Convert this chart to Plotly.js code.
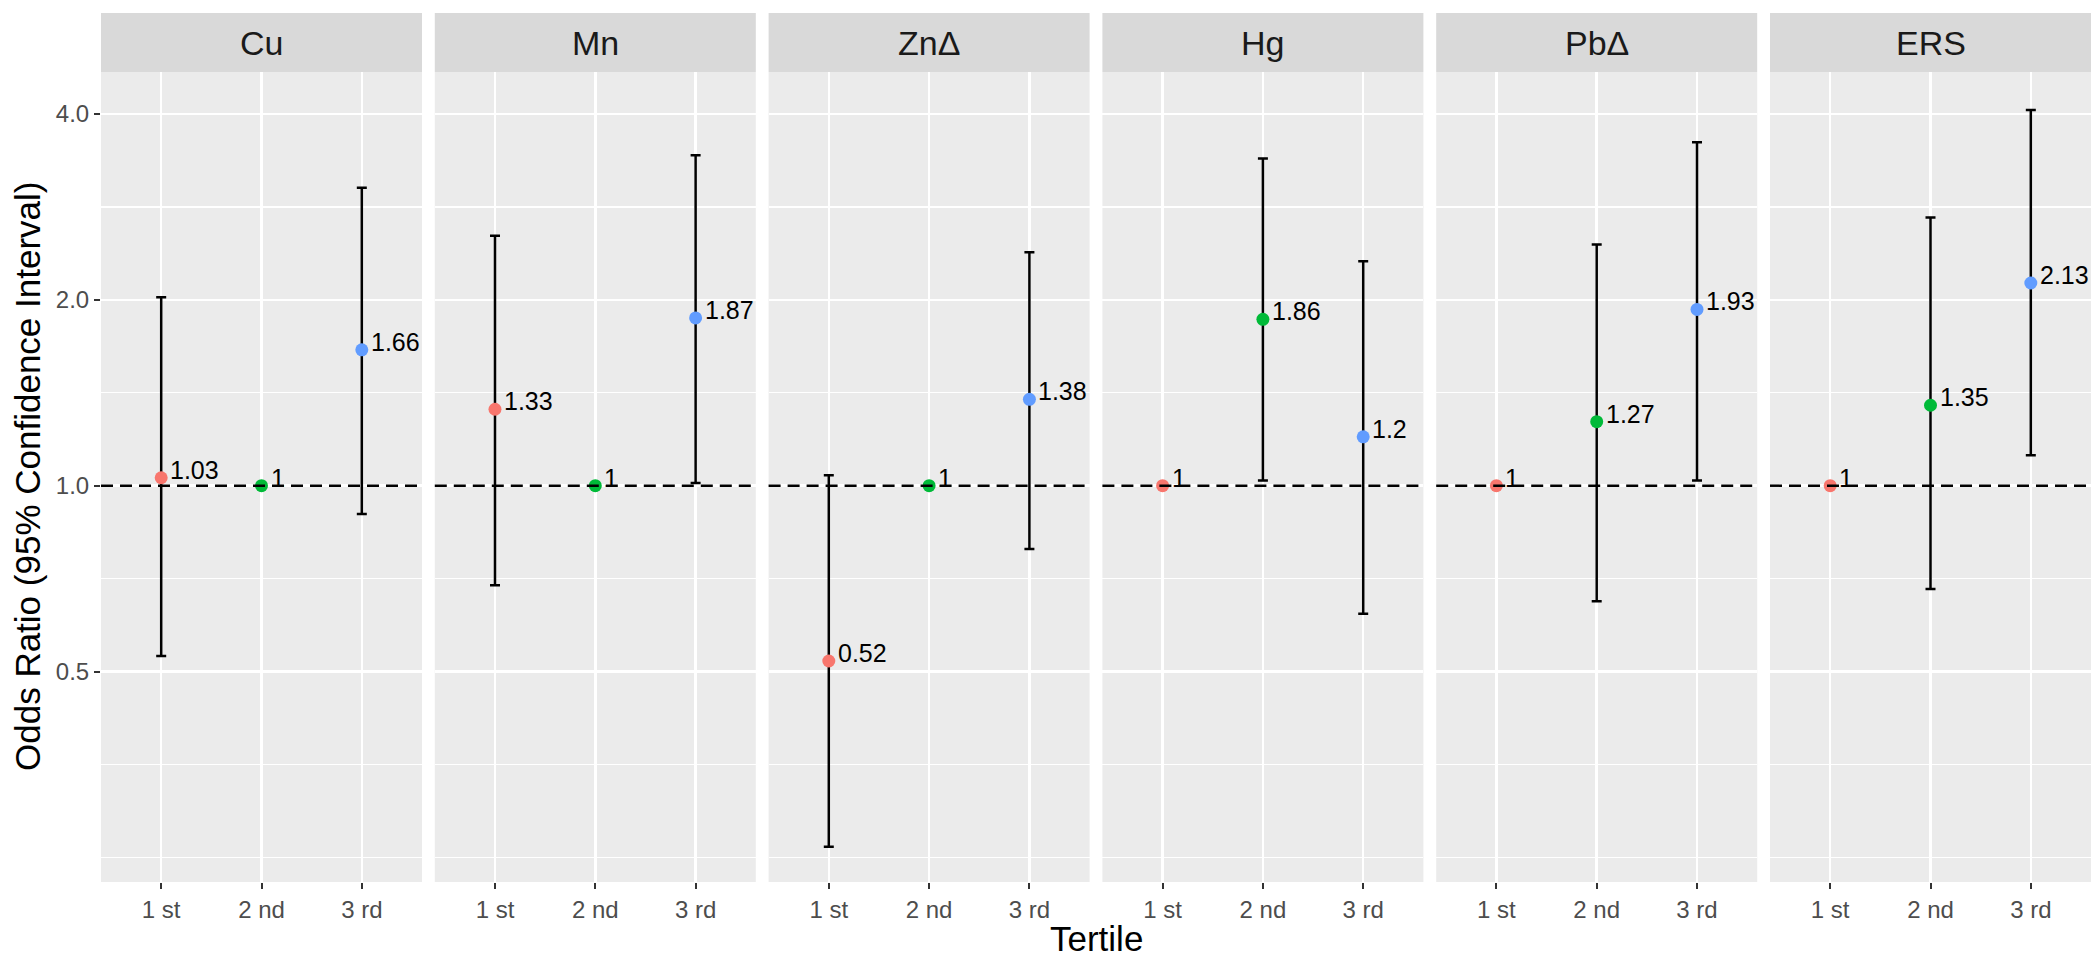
<!DOCTYPE html>
<html>
<head>
<meta charset="utf-8">
<script src="https://cdn.plot.ly/plotly-3.0.1.min.js"></script>
<style>
  html, body { margin: 0; padding: 0; background: #ffffff; }
  #plot { width: 2100px; height: 961px; }
</style>
</head>
<body>
<div id="plot"></div>
<script>
/* ===========================================
   Data
   =========================================== */

const panels = ['Cu', 'Mn', 'ZnΔ', 'Hg', 'PbΔ', 'ERS'];
const tertiles = ['1 st', '2 nd', '3 rd'];

// odds ratio per panel, one value per tertile (reference = 1, no CI)
const oddsRatio = [
  [1.03, 1, 1.66],
  [1.33, 1, 1.87],
  [0.52, 1, 1.38],
  [1, 1.86, 1.2],
  [1, 1.27, 1.93],
  [1, 1.35, 2.13]
];
const ciLower = [
  [0.53, null, 0.90],
  [0.69, null, 1.01],
  [0.26, null, 0.79],
  [null, 1.02, 0.62],
  [null, 0.65, 1.02],
  [null, 0.68, 1.12]
];
const ciUpper = [
  [2.02, null, 3.04],
  [2.54, null, 3.43],
  [1.04, null, 2.39],
  [null, 3.39, 2.31],
  [null, 2.46, 3.60],
  [null, 2.72, 4.06]
];

const yTickVals = [0.5, 1, 2, 4];
const yTickText = ['0.5', '1.0', '2.0', '4.0'];

/* ===========================================
   Styling
   =========================================== */

const tertileColors = ['#F8766D', '#00BA38', '#619CFF'];
const FONT = 'Liberation Sans, Arial, Helvetica, sans-serif';

const W = 2100, H = 961;
const margin = { l: 101, r: 9, t: 72, b: 79 };
const plotW = W - margin.l - margin.r;
const plotH = H - margin.t - margin.b;
const panelW = 321;
const gap = (plotW - panels.length * panelW) / (panels.length - 1);
const stripH = 59;

// ggplot style minor breaks: geometric midpoints + one extension below
const ext = [yTickVals[0] / 2, ...yTickVals];
const yMinor = [ext[0], ...ext.slice(0, -1).map(v => v * Math.SQRT2)];

const yRange = [Math.log10(0.228), Math.log10(4.68)];

/* ===========================================
   Build traces / axes
   =========================================== */

const traces = [];
const annotations = [];
const shapes = [];
const layout = {
  width: W,
  height: H,
  margin: margin,
  paper_bgcolor: '#ffffff',
  plot_bgcolor: '#EBEBEB',
  showlegend: false,
  font: { family: FONT, color: '#4D4D4D' }
};

panels.forEach((name, i) => {
  const suffix = i === 0 ? '' : String(i + 1);
  const xa = 'x' + suffix;
  const ya = 'y' + suffix;

  const x0 = (i * (panelW + gap)) / plotW;
  const x1 = (i * (panelW + gap) + panelW) / plotW;

  layout['xaxis' + suffix] = {
    domain: [x0, x1],
    anchor: ya,
    type: 'category',
    categoryorder: 'array',
    categoryarray: tertiles,
    range: [-0.6, 2.6],
    showgrid: true,
    gridcolor: '#ffffff',
    gridwidth: 2.5,
    zeroline: false,
    showline: false,
    ticks: 'outside',
    ticklen: 6,
    tickwidth: 2,
    tickcolor: '#333333',
    tickfont: { family: FONT, size: 24, color: '#4D4D4D' },
    fixedrange: true
  };

  layout['yaxis' + suffix] = {
    domain: [0, 1],
    anchor: xa,
    type: 'log',
    range: yRange,
    tickmode: 'array',
    tickvals: yTickVals,
    ticktext: yTickText,
    showticklabels: i === 0,
    ticks: i === 0 ? 'outside' : '',
    ticklen: 6,
    tickwidth: 2,
    tickcolor: '#333333',
    tickfont: { family: FONT, size: 24, color: '#4D4D4D' },
    showgrid: true,
    gridcolor: '#ffffff',
    gridwidth: 2.5,
    minor: {
      tickmode: 'array',
      tickvals: yMinor,
      showgrid: true,
      gridcolor: '#ffffff',
      gridwidth: 1.2,
      ticks: ''
    },
    zeroline: false,
    showline: false,
    fixedrange: true
  };

  const vals = oddsRatio[i];
  const plus = vals.map((v, k) => ciUpper[i][k] == null ? NaN : ciUpper[i][k] - v);
  const minus = vals.map((v, k) => ciLower[i][k] == null ? NaN : v - ciLower[i][k]);

  traces.push({
    type: 'scatter',
    mode: 'markers',
    xaxis: xa,
    yaxis: ya,
    x: tertiles,
    y: vals,
    marker: { size: 13, color: tertileColors, line: { width: 0 } },
    error_y: {
      type: 'data',
      symmetric: false,
      array: plus,
      arrayminus: minus,
      color: '#000000',
      thickness: 2.5,
      width: 5
    },
    hoverinfo: 'skip'
  });

  // value labels to the right of each point
  vals.forEach((v, k) => {
    annotations.push({
      xref: xa,
      yref: ya,
      x: tertiles[k],
      y: Math.log10(v),
      text: String(v),
      showarrow: false,
      xanchor: 'left',
      yanchor: 'middle',
      xshift: 7,
      yshift: 8,
      font: { family: FONT, size: 25, color: '#000000' }
    });
  });

  // reference line at OR = 1
  shapes.push({
    type: 'line',
    xref: xa + ' domain',
    yref: ya,
    x0: 0, x1: 1,
    y0: 1, y1: 1,
    layer: 'above',
    line: { color: '#000000', width: 2.5, dash: '12px,7px' }
  });

  // facet strip
  shapes.push({
    type: 'rect',
    xref: xa + ' domain',
    yref: 'paper',
    x0: 0, x1: 1,
    y0: 1, y1: 1 + stripH / plotH,
    fillcolor: '#D9D9D9',
    line: { width: 0 },
    layer: 'below'
  });
  annotations.push({
    xref: xa + ' domain',
    yref: 'paper',
    x: 0.5,
    y: 1 + stripH / 2 / plotH,
    text: name,
    showarrow: false,
    xanchor: 'center',
    yanchor: 'middle',
    font: { family: FONT, size: 34, color: '#1A1A1A' }
  });
});

// axis titles
annotations.push({
  xref: 'paper', yref: 'paper',
  x: 0.5, y: (plotH - (938 - margin.t)) / plotH,
  text: 'Tertile',
  showarrow: false,
  xanchor: 'center', yanchor: 'middle',
  font: { family: FONT, size: 35, color: '#000000' }
});
annotations.push({
  xref: 'paper', yref: 'paper',
  x: (27 - margin.l) / plotW, y: 0.5,
  text: 'Odds Ratio (95% Confidence Interval)',
  textangle: -90,
  showarrow: false,
  xanchor: 'center', yanchor: 'middle',
  font: { family: FONT, size: 35, color: '#000000' }
});

layout.shapes = shapes;
layout.annotations = annotations;

Plotly.newPlot('plot', traces, layout, { displayModeBar: false, staticPlot: true });
</script>
</body>
</html>
